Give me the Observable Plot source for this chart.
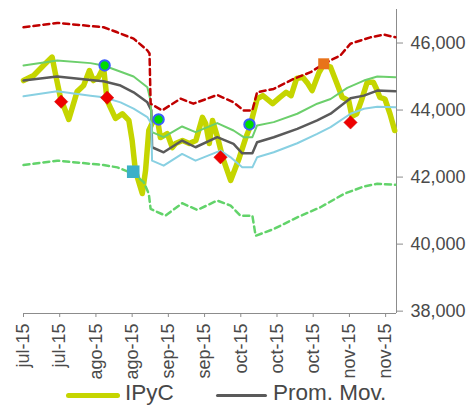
<!DOCTYPE html>
<html><head><meta charset="utf-8">
<script src="https://cdn.jsdelivr.net/npm/d3@7"></script>
<script src="https://cdn.jsdelivr.net/npm/@observablehq/plot@0.6"></script>
<style>
body{margin:0;background:#fff;font-family:"Liberation Sans",Arial,sans-serif;}
#wrap{position:relative;width:468px;height:405px;overflow:hidden;}
.sw{position:absolute;border-radius:3px;}
.lt{position:absolute;font-size:22.5px;line-height:22px;color:#474747;white-space:nowrap;}
</style></head><body>
<div id="wrap"><div id="chart"></div></div>
<script>
// tick labels (every 10 trading days)
const tickDays = [0,10,20,30,40,50,60,70,80,90,100];
const tickLabels = ["jul-15","jul-15","ago-15","ago-15","sep-15","sep-15","oct-15","oct-15","oct-15","nov-15","nov-15"];
const yTicks = [38000,40000,42000,44000,46000];

// [trading day, value]
const ipyc = [[0,44880],[2.8,45030],[5.5,45330],[7.9,45580],[8.8,45090],[10.2,44370],[12.5,43720],[14.8,44550],[16.6,44730],[18.2,45180],[19.3,44880],[20.7,44980],[22.1,45280],[23.1,44280],[25.4,43750],[27.3,43890],[29.1,43690],[30,43090],[30.9,42190],[32.8,41510],[33.7,42190],[34.6,43390],[35.5,43600],[36.9,43780],[37.8,43180],[39.7,43300],[41.1,42880],[42,43000],[43.9,43090],[45.8,43000],[47.6,43090],[49.4,43780],[50.3,43600],[51.3,43000],[52.2,43690],[53.6,43180],[55,42580],[57.2,41900],[59.6,42580],[61.4,43180],[62.4,43450],[64.5,44330],[66.1,44430],[68.8,44190],[70.7,44370],[72.5,44530],[73.9,44430],[75.4,44940],[77.1,44980],[78.5,44790],[79.7,44580],[81.6,45120],[82.9,45360],[84.8,45280],[86.6,44780],[88,44380],[89.8,44280],[90.7,43810],[92,43890],[93.3,44280],[94.9,44830],[96.6,44830],[97.5,44630],[98.4,44380],[99.8,44330],[101.2,43890],[102.5,43390]];
const promMov = [[0,44880],[9.3,45000],[18.5,44900],[22.1,44860],[26.8,44730],[30.4,44530],[34.2,44230],[35.3,43990],[35.5,42890],[38.7,42740],[43.8,43090],[47.5,42890],[53.5,43190],[58,42990],[60.4,42710],[63.2,42710],[64.5,43040],[69.1,43190],[75.6,43440],[81.1,43690],[84.8,43890],[90.3,44350],[94,44430],[97.7,44580],[102.7,44560]];
const bandaSupInt = [[0,45330],[9.3,45480],[18.5,45400],[22.1,45330],[25.9,45180],[30.4,45000],[34.2,44680],[35.1,44280],[35.5,43340],[38.7,43190],[43.8,43510],[47.5,43340],[53.5,43610],[58,43390],[60.8,43190],[63.2,43190],[64.5,43540],[69.1,43640],[75.6,43890],[81.1,44190],[84.8,44330],[89.4,44660],[94,44880],[97.7,45000],[102.7,44980]];
const bandaInfInt = [[0,44410],[9.3,44560],[18.5,44430],[22.1,44380],[26.8,44230],[30.4,44040],[34.2,43790],[35.3,43590],[35.5,42490],[38.7,42340],[43.8,42690],[47.5,42490],[54.4,42790],[57.2,42590],[60.4,42290],[63.2,42290],[64.5,42590],[69.1,42740],[75.6,43010],[81.1,43290],[84.8,43490],[90.3,43890],[94,44040],[97.7,44100],[102.7,44080]];
const bandaSupExt = [[0,46470],[9.3,46600],[22.1,46470],[25.9,46320],[30.4,46130],[34.2,45780],[34.8,45690],[35.1,44190],[38.3,43990],[43.4,44340],[46.9,44190],[53.5,44450],[58,44230],[60.8,43990],[63.2,43990],[64.5,44530],[69.1,44630],[74.6,44930],[79.3,45130],[82.9,45380],[87.5,45630],[90.3,45980],[95.8,46170],[99.5,46250],[102.7,46170]];
const bandaInfExt = [[0,42360],[9.3,42490],[22.1,42360],[25.9,42290],[30.4,42100],[33.2,41850],[34.6,41500],[35.1,41050],[39.2,40850],[43.8,41220],[48,41020],[53.5,41300],[57.2,41150],[59.9,40850],[63.2,40850],[64.1,40250],[69.1,40450],[75.6,40800],[82,41100],[88.5,41500],[94,41720],[97.7,41800],[102.7,41770]];
const senalVenta = [[10.4,44250],[23.1,44370],[54.4,42590],[90.3,43630]];
const senalCompra = [[22.4,45330],[37.3,43720],[62.4,43570]];
const minimo = [[30.3,42160]];
const maximo = [[82.9,45380]];

const X = d => d[0], Y = d => d[1];
const chart = Plot.plot({
  width: 468, height: 380,
  marginLeft: 23, marginRight: 72, marginTop: 9, marginBottom: 67,
  x: {domain: [0, 103]},
  y: {domain: [37930, 47000]},
  style: {fontFamily: "'Liberation Sans', Arial, sans-serif", background: "white"},
  marks: [
    Plot.ruleY([37930], {stroke: "#8c8c8c", strokeWidth: 1}),
    Plot.ruleX([103], {stroke: "#8c8c8c", strokeWidth: 1}),
    Plot.line(ipyc, {x: X, y: Y, stroke: "#c5d500", strokeWidth: 5.5, strokeLinejoin: "round", strokeLinecap: "round"}),
    Plot.line(promMov, {x: X, y: Y, stroke: "#5a5a5a", strokeWidth: 2.5}),
    Plot.line(bandaSupInt, {x: X, y: Y, stroke: "#6ccf6c", strokeWidth: 2}),
    Plot.line(bandaInfInt, {x: X, y: Y, stroke: "#88d0e2", strokeWidth: 2}),
    Plot.line(bandaSupExt, {x: X, y: Y, stroke: "#c00000", strokeWidth: 2.5, strokeDasharray: "6,4"}),
    Plot.line(bandaInfExt, {x: X, y: Y, stroke: "#62d36a", strokeWidth: 2.5, strokeDasharray: "6,4"}),
    Plot.dot(senalVenta, {x: X, y: Y, symbol: "diamond2", r: 6, fill: "#ee0000", stroke: "#cc0000", strokeWidth: 0.5}),
    Plot.dot(senalCompra, {x: X, y: Y, symbol: "circle", r: 5.2, fill: "#00dd00", stroke: "#3a5cff", strokeWidth: 2}),
    Plot.dot(minimo, {x: X, y: Y, symbol: "square", r: 7.1, fill: "#3cb0c8"}),
    Plot.dot(maximo, {x: X, y: Y, symbol: "square", r: 6.2, fill: "#e8731a"}),
    Plot.axisX({ticks: tickDays, tickFormat: d => tickLabels[tickDays.indexOf(d)], tickRotate: -90, tickSize: 4, tickPadding: 6, fontSize: 18, stroke: "#8c8c8c", fill: "#4a4a4a"}),
    Plot.axisY({anchor: "right", ticks: yTicks, tickFormat: d3.format(","), tickSize: 6, tickPadding: 8, fontSize: 18, stroke: "#8c8c8c", fill: "#4a4a4a"})
  ]
});
document.getElementById("chart").appendChild(chart);

const wrap = document.getElementById("wrap");
function sw(left, top, w, h, color){const e=document.createElement("div");e.className="sw";Object.assign(e.style,{left:left+"px",top:top+"px",width:w+"px",height:h+"px",background:color});wrap.appendChild(e);}
function lt(left, top, txt){const e=document.createElement("div");e.className="lt";e.style.left=left+"px";e.style.top=top+"px";e.textContent=txt;wrap.appendChild(e);}
sw(66, 392.5, 54, 5, "#c5d500");
lt(125, 382, "IPyC");
sw(216, 393.5, 51, 3, "#5a5a5a");
lt(273, 382, "Prom. Mov.");
</script></body></html>
